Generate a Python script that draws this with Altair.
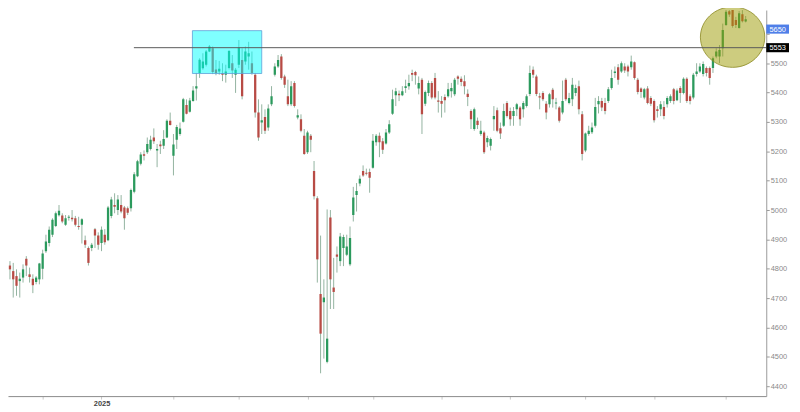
import altair as alt
import pandas as pd

# ---- data (daily candles, trading-day index) ----
first_day = -13
open_ = [4755,4758,4817,4811,4792,4775,4758,4770,4834,4781,4766,4755,4764,
         4800,4860,4888,4916,4946,4982,4981,4950,4974,4974,4972,4946,4950,4897,4871,4871,4935,4913,
         4888,4916,4897,4980,5017,5000,5017,5009,5006,5006,5062,5115,5158,5190,5197,5208,5247,5203,5223,5219,5247,5304,
         5185,5239,5259,5301,5358,5335,5371,5414,5467,5483,5495,5540,5551,5479,5472,5467,5461,5484,5500,5461,
         5495,5511,5506,5523,5500,5461,5332,5298,5317,5281,5360,5461,5489,5523,5455,5388,5360,5433,5315,5309,5253,
         5197,5253,5133,5040,4714,4686,4483,4975,4736,4849,4826,4871,4848,4815,4983,5051,5090,5133,5127,5130,
         5144,5231,5253,5234,5227,5264,5328,5391,5396,5391,5416,5422,5467,5470,5414,5444,5362,5399,5433,5450,5373,
         5371,5385,5388,5405,5394,5455,5447,5439,5396,5337,5276,5304,5259,5264,5231,5219,5309,5340,5279,5287,5365,
         5337,5320,5343,5349,5343,5354,5395,5478,5455,5388,5399,5362,5360,5410,5363,5349,5332,5444,5365,5377,5399,5422,5326,
         5203,5259,5265,5287,5360,5371,5365,5371,5416,5467,5486,5472,5489,5489,5486,5503,5444,5414,5383,5414,5382,
         5371,5343,5343,5351,5360,5371,5411,5374,5416,5399,5447,5388,5383,5463,5472,5463,5484,5484,5484,5523,5523,5551,
         5630,5677,5683,5647,5620,5667,5642]
high = [4798,4845,4843,4826,4820,4798,4787,4815,4843,4804,4781,4775,4820,
        4865,4916,4944,4972,4995,5017,4989,4983,4983,5000,4980,4977,4972,4913,4876,4888,4939,4924,
        4944,4935,5014,5045,5057,5051,5051,5014,5012,5073,5129,5171,5197,5203,5247,5253,5278,5225,5236,5272,5309,5332,
        5259,5290,5298,5382,5377,5382,5422,5467,5517,5534,5545,5562,5557,5511,5508,5500,5495,5545,5528,5484,
        5579,5551,5557,5573,5540,5467,5377,5360,5343,5360,5422,5500,5528,5531,5461,5444,5439,5439,5343,5326,5276,
        5270,5259,5167,5047,4913,4764,5002,5000,4837,4876,4922,4916,4916,4944,5079,5092,5118,5152,5141,5141,
        5259,5259,5264,5245,5276,5306,5410,5416,5407,5422,5444,5461,5478,5474,5455,5450,5407,5441,5439,5467,5405,
        5388,5394,5433,5433,5450,5459,5455,5459,5411,5343,5349,5315,5304,5270,5253,5247,5354,5349,5298,5362,5371,
        5349,5351,5365,5354,5371,5394,5492,5489,5461,5399,5405,5371,5399,5416,5382,5354,5441,5450,5399,5450,5427,5441,5337,
        5264,5287,5298,5382,5388,5382,5382,5419,5478,5489,5497,5506,5500,5495,5526,5506,5450,5418,5416,5422,5388,
        5377,5354,5371,5371,5388,5394,5416,5414,5422,5452,5452,5394,5467,5500,5500,5506,5489,5489,5523,5551,5562,5635,
        5695,5686,5688,5658,5678,5681,5661]
low = [4708,4753,4775,4764,4702,4708,4702,4753,4775,4753,4717,4747,4747,
       4764,4854,4876,4908,4942,4978,4955,4946,4964,4961,4944,4933,4886,4871,4811,4860,4871,4865,
       4860,4882,4894,4972,4989,4983,4989,4933,4983,4995,5057,5112,5152,5169,5191,5203,5225,5146,5191,5208,5245,5288,
       5118,5208,5253,5298,5326,5332,5369,5373,5450,5478,5489,5538,5463,5459,5461,5439,5434,5479,5450,5399,
       5484,5377,5495,5478,5461,5315,5236,5259,5259,5270,5354,5455,5484,5444,5416,5354,5354,5349,5309,5265,5188,
       5191,5197,5036,4753,4444,4494,4478,4663,4663,4787,4809,4809,4843,4809,4961,4995,5081,5113,5118,5059,
       5141,5219,5180,5191,5223,5259,5324,5354,5371,5388,5399,5410,5439,5427,5394,5259,5354,5388,5377,5377,5332,
       5315,5332,5383,5383,5388,5427,5422,5394,5354,5276,5270,5276,5253,5191,5214,5203,5270,5265,5242,5283,5315,
       5287,5287,5320,5287,5315,5349,5388,5450,5388,5343,5371,5309,5349,5349,5343,5298,5326,5371,5360,5354,5388,5326,5169,
       5197,5253,5259,5281,5329,5337,5326,5365,5410,5450,5427,5467,5467,5455,5478,5444,5394,5382,5377,5360,5354,
       5298,5315,5320,5309,5349,5365,5360,5371,5365,5394,5365,5360,5377,5455,5467,5455,5455,5427,5467,5517,5500,5523,
       5627,5658,5621,5620,5618,5639,5639]
close = [4742,4841,4804,4798,4764,4742,4766,4798,4811,4772,4744,4770,4818,
         4852,4893,4933,4967,4989,4998,4961,4972,4977,4969,4950,4942,4969,4882,4820,4882,4913,4882,
         4933,4890,5009,5036,5011,5036,4995,4972,4991,5068,5122,5166,5189,5185,5225,5239,5234,5208,5217,5242,5304,5290,
         5223,5283,5278,5377,5328,5373,5407,5422,5512,5506,5540,5557,5470,5467,5481,5461,5472,5542,5475,5478,
         5553,5388,5540,5534,5467,5332,5247,5306,5270,5346,5388,5489,5511,5450,5427,5360,5422,5354,5323,5270,5191,
         5264,5239,5047,4832,4579,4702,4562,4764,4721,4841,4910,4908,4876,4905,5043,5065,5107,5118,5124,5110,
         5236,5253,5231,5205,5264,5292,5377,5405,5391,5405,5422,5433,5461,5459,5433,5326,5402,5433,5383,5383,5369,
         5362,5374,5411,5416,5444,5447,5436,5422,5385,5309,5343,5290,5270,5197,5245,5242,5320,5270,5261,5337,5320,
         5309,5337,5360,5309,5365,5388,5467,5461,5395,5383,5377,5332,5394,5377,5366,5304,5371,5377,5382,5427,5416,5343,5191,
         5261,5270,5281,5351,5371,5349,5337,5411,5450,5472,5444,5500,5475,5472,5506,5450,5402,5402,5411,5365,5362,
         5306,5337,5360,5320,5382,5388,5371,5407,5399,5447,5371,5371,5461,5472,5489,5497,5467,5450,5517,5540,5545,5613,
         5675,5666,5627,5630,5670,5643,5650]
days = list(range(first_day, first_day + len(close)))

month_ticks = [0, 18, 40, 60, 81, 101, 122, 143, 166, 187, 209]
month_labels = ["", "2025", "", "", "", "", "", "", "", "", ""]
y_ticks = list(range(4400, 5701, 100))
hidden_y_label = 5600  # covered by the last-price box in the reference

resistance = 5553
resistance_start = 27.9
last_price = 5650
zone_days = [45.8, 67.0]
zone_prices = [5465, 5611]
circle_day = 211.0
circle_price = 5589

PW, PH = 766, 390
x_domain = [-10.6, 221.3]
y_domain = [4366.3, 5681.2]

GREEN = "#2b9a5d"
RED = "#b84b45"
WICK = "#93b3a0"

df = pd.DataFrame({"day": days, "open": open_, "high": high, "low": low, "close": close})
df["dir"] = ["up" if c >= o else "down" for o, c in zip(open_, close)]

label_map = " ".join(
    f"datum.value == {t} ? '{l}' :" for t, l in zip(month_ticks, month_labels) if l
) + " ''"

x_axis = alt.Axis(values=month_ticks, labelExpr=label_map, title=None, grid=False,
                  tickSize=3, tickColor="#c8c8c8", domainColor="#8a8a8a",
                  labelColor="#444444", labelFontSize=7.5, labelFontWeight="bold",
                  labelFont="Liberation Sans", labelPadding=1)
y_axis = alt.Axis(values=y_ticks, orient="right", title=None, grid=False, format="d",
                  labelExpr=f"datum.value == {hidden_y_label} ? '' : datum.label",
                  tickSize=3, tickColor="#9a9a9a", domainColor="#9a9a9a",
                  labelColor="#8a8a8a", labelFontSize=7.5, labelFont="Liberation Sans",
                  labelPadding=1)
xs = alt.Scale(domain=x_domain, nice=False, zero=False)
ys = alt.Scale(domain=y_domain, nice=False, zero=False)

base = alt.Chart(df)
wicks = base.mark_rule(color=WICK, strokeWidth=1, clip=True).encode(
    x=alt.X("day:Q", scale=xs, axis=x_axis),
    y=alt.Y("low:Q", scale=ys, axis=y_axis),
    y2="high:Q",
)
bodies = base.mark_rule(strokeWidth=2.3, clip=True).encode(
    x=alt.X("day:Q", scale=xs, axis=x_axis),
    y=alt.Y("open:Q", scale=ys, axis=y_axis),
    y2="close:Q",
    color=alt.Color("dir:N", scale=alt.Scale(domain=["up", "down"], range=[GREEN, RED]), legend=None),
)

zone_df = pd.DataFrame({"x1": [zone_days[0]], "x2": [zone_days[1]],
                        "y1": [zone_prices[0]], "y2": [zone_prices[1]]})
zone = alt.Chart(zone_df).mark_rect(fill="#00ffff", fillOpacity=0.5, stroke="#5c9fd6",
                                     strokeWidth=1, strokeOpacity=0.8).encode(
    x=alt.X("x1:Q", scale=xs, axis=x_axis), x2="x2:Q",
    y=alt.Y("y1:Q", scale=ys, axis=y_axis), y2="y2:Q",
)

ELLIPSE = "M -1 0 A 1 0.94 0 1 0 1 0 A 1 0.94 0 1 0 -1 0 Z"
circ_df = pd.DataFrame({"day": [circle_day], "price": [circle_price]})
circle = alt.Chart(circ_df).mark_point(shape=ELLIPSE, size=4225, filled=True, opacity=1,
                                       fill="#9c9a00", fillOpacity=0.5,
                                       stroke="#8a8820", strokeWidth=1, strokeOpacity=0.8).encode(
    x=alt.X("day:Q", scale=xs, axis=x_axis),
    y=alt.Y("price:Q", scale=ys, axis=y_axis),
)

res_df = pd.DataFrame({"x1": [resistance_start], "x2": [x_domain[1]], "y": [resistance]})
res_line = alt.Chart(res_df).mark_rule(color="#5a5a5a", strokeWidth=1).encode(
    x=alt.X("x1:Q", scale=xs, axis=x_axis), x2="x2:Q",
    y=alt.Y("y:Q", scale=ys, axis=y_axis),
)

BOX = "M -1 -0.4 H 1 V 0.4 H -1 Z"
layers = [wicks, bodies, zone, circle, res_line]
for value, colour, shift in [(last_price, "#4f7fe8", 10), (resistance, "#000000", 0)]:
    bdf = pd.DataFrame({"price": [value], "label": [str(value)]})
    layers.append(alt.Chart(bdf).mark_point(shape=BOX, size=529, filled=True, opacity=1,
                                            color=colour, yOffset=shift).encode(
        x=alt.value(PW + 11.5), y=alt.Y("price:Q", scale=ys, axis=y_axis)))
    layers.append(alt.Chart(bdf).mark_text(color="white", fontSize=7.5, font="Liberation Sans",
                                           align="center", baseline="middle", yOffset=shift + 0.5).encode(
        x=alt.value(PW + 11.5), y=alt.Y("price:Q", scale=ys, axis=y_axis), text="label:N"))

chart = alt.layer(*layers).properties(
    width=PW, height=PH,
    background="white",
    autosize=alt.AutoSizeParams(type="none"),
    padding={"left": 0, "top": 0, "right": 26, "bottom": 14},
).configure_view(strokeWidth=0, stroke="transparent")

chart.save("out.html", embed_options={"renderer": "svg", "actions": False})
